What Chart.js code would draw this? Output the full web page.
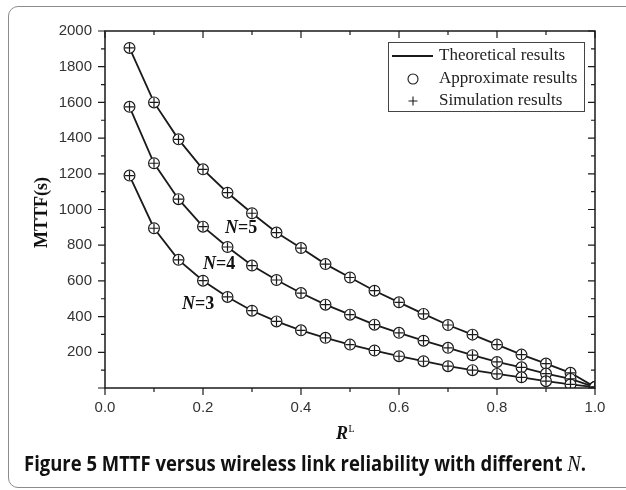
<!DOCTYPE html>
<html>
<head>
<meta charset="utf-8">
<script src="https://cdn.jsdelivr.net/npm/chart.js@4.4.1/dist/chart.umd.min.js"></script>
<style>
  html, body { margin: 0; padding: 0; background: #fff; overflow: hidden; }
  body { width: 626px; height: 490px; position: relative; }
  #frame { position: absolute; left: 8px; top: 6px; width: 660px; height: 482px; border: 1.5px solid #8c8c8c; border-radius: 10px; box-sizing: border-box; }
  #wrap { position: absolute; left: 0; top: 0; width: 626px; height: 490px; }
  #caption { position: absolute; left: 24px; top: 452px; font-family: "Open Sans"; font-weight: 700; font-size: 21px; line-height: 1; color: #111; white-space: nowrap; transform-origin: 0 0; }
  #caption i { font-family: "Liberation Serif"; font-weight: 400; font-size: 23px; }
</style>
</head>
<body>
<div id="frame"></div>
<div id="wrap"><canvas id="mttfChart" width="626" height="490"></canvas></div>
<div id="caption">Figure 5 MTTF versus wireless link reliability with different <i>N</i>.</div>
<script>
// R^L values on the x axis
const rl = [0.05, 0.10, 0.15, 0.20, 0.25, 0.30, 0.35, 0.40, 0.45, 0.50,
            0.55, 0.60, 0.65, 0.70, 0.75, 0.80, 0.85, 0.90, 0.95, 1.00];
// MTTF(s)
const mttfN3 = [1190, 895, 718, 601, 510, 433, 373, 323, 281, 243,
                210, 178, 150, 122, 100, 79, 60, 38, 20, 5];
const mttfN4 = [1575, 1259, 1058, 904, 790, 686, 605, 532, 467, 411,
                355, 309, 265, 225, 184, 146, 116, 81, 51, 5];
const mttfN5 = [1905, 1600, 1393, 1225, 1094, 979, 871, 784, 694, 619,
                545, 480, 415, 353, 299, 243, 187, 137, 85, 5];
const xTicks = [0, 0.2, 0.4, 0.6, 0.8, 1.0];
const yTicks = [200, 400, 600, 800, 1000, 1200, 1400, 1600, 1800, 2000];
const legendNames = ['Theoretical results', 'Approximate results', 'Simulation results'];
// curve labels, placed in data units
const curveLabels = [
    { n: '3', x: 0.19, y: 467 },
    { n: '4', x: 0.233, y: 690 },
    { n: '5', x: 0.278, y: 897 }
];

const ink = '#1a1a1a';
const pts = arr => arr.map((v, i) => ({ x: rl[i], y: v }));
const series = [mttfN3, mttfN4, mttfN5];

const datasets = [];
series.forEach(s => datasets.push({ label: legendNames[0], data: pts(s), borderColor: ink, borderWidth: 1.8, pointRadius: 0, showLine: true, order: 3 }));
series.forEach(s => datasets.push({ label: legendNames[1], data: pts(s), showLine: false, pointStyle: 'circle', pointRadius: 5.4, borderColor: ink, borderWidth: 1.2, backgroundColor: '#fff', order: 2 }));
series.forEach(s => datasets.push({ label: legendNames[2], data: pts(s), showLine: false, pointStyle: 'cross', pointRadius: 4.6, borderColor: ink, borderWidth: 1.2, order: 1 }));

const frameAndText = {
    id: 'frameAndText',
    afterDatasetsDraw(chart) {
        const { ctx, chartArea: a, scales: { x, y } } = chart;
        ctx.save();
        ctx.strokeStyle = ink;
        ctx.lineWidth = 1.5;
        ctx.strokeRect(a.left, a.top, a.right - a.left, a.bottom - a.top);

        // tick marks: left/bottom outward, top/right inward
        ctx.lineWidth = 1.2;
        ctx.beginPath();
        for (let i = 0; i <= 10; i++) {
            const px = x.getPixelForValue(i / 10);
            const len = i % 2 === 0 ? 7 : 4;
            ctx.moveTo(px, a.bottom); ctx.lineTo(px, a.bottom + len);
            ctx.moveTo(px, a.top); ctx.lineTo(px, a.top + len);
        }
        for (let v = 0; v <= 2000; v += 100) {
            const py = y.getPixelForValue(v);
            const len = v % 200 === 0 ? 7 : 4;
            ctx.moveTo(a.left, py); ctx.lineTo(a.left - len, py);
            ctx.moveTo(a.right, py); ctx.lineTo(a.right - len, py);
        }
        ctx.stroke();

        // y title
        ctx.fillStyle = '#111';
        ctx.save();
        ctx.translate(42, (a.top + a.bottom) / 2 + 3);
        ctx.rotate(-Math.PI / 2);
        ctx.font = 'bold 18px "Liberation Serif"';
        ctx.textAlign = 'center';
        ctx.textBaseline = 'middle';
        ctx.fillText('MTTF(s)', 0, 0);
        ctx.restore();

        // x title R^L
        ctx.textBaseline = 'alphabetic';
        ctx.textAlign = 'left';
        ctx.font = 'italic bold 18px "Liberation Serif"';
        const rw = ctx.measureText('R').width;
        const cx = (a.left + a.right) / 2 - 8;
        ctx.fillText('R', cx - rw / 2, 439);
        ctx.font = '10px "Liberation Serif"';
        ctx.fillText('L', cx + rw / 2 + 0.5, 432);

        // curve labels N=3..5
        curveLabels.forEach(l => {
            const px = x.getPixelForValue(l.x), py = y.getPixelForValue(l.y);
            ctx.font = 'italic bold 18px "Liberation Serif"';
            const nw = ctx.measureText('N').width;
            ctx.font = 'bold 18px "Liberation Serif"';
            const rest = '=' + l.n;
            const tw = nw + ctx.measureText(rest).width;
            const sx = px - tw / 2;
            ctx.textBaseline = 'middle';
            ctx.font = 'italic bold 18px "Liberation Serif"';
            ctx.fillText('N', sx, py);
            ctx.font = 'bold 18px "Liberation Serif"';
            ctx.fillText(rest, sx + nw, py);
        });

        // legend box
        const lx = 388, ly = 42, lw = 196, lh = 69;
        ctx.fillStyle = '#fff';
        ctx.fillRect(lx, ly, lw, lh);
        ctx.strokeStyle = '#444';
        ctx.lineWidth = 1;
        ctx.strokeRect(lx + 0.5, ly + 0.5, lw, lh);
        const rows = [56, 79, 101];
        const mx = 413;
        ctx.strokeStyle = ink;
        ctx.lineWidth = 1.8;
        ctx.beginPath(); ctx.moveTo(392, rows[0]); ctx.lineTo(433, rows[0]); ctx.stroke();
        ctx.lineWidth = 1.1;
        ctx.beginPath(); ctx.arc(mx, rows[1], 5, 0, Math.PI * 2); ctx.stroke();
        ctx.beginPath();
        ctx.moveTo(mx - 4.5, rows[2]); ctx.lineTo(mx + 4.5, rows[2]);
        ctx.moveTo(mx, rows[2] - 4.5); ctx.lineTo(mx, rows[2] + 4.5);
        ctx.stroke();
        ctx.fillStyle = '#222';
        ctx.font = '17px "Liberation Serif"';
        ctx.textBaseline = 'middle';
        legendNames.forEach((t, i) => ctx.fillText(t, 439, rows[i]));
        ctx.restore();
    }
};

new Chart(document.getElementById('mttfChart').getContext('2d'), {
    type: 'scatter',
    data: { datasets },
    options: {
        responsive: false,
        animation: false,
        layout: { padding: { top: 31, right: 31, left: 0, bottom: 0 } },
        scales: {
            x: {
                type: 'linear', min: 0, max: 1,
                afterBuildTicks: s => { s.ticks = xTicks.map(v => ({ value: v })); },
                afterFit: s => { s.height = 102; },
                grid: { display: false, drawTicks: false },
                border: { display: false },
                ticks: { padding: 11, color: '#333', font: { family: '"Liberation Sans"', size: 15 }, callback: v => v.toFixed(1), maxRotation: 0 }
            },
            y: {
                type: 'linear', min: 0, max: 2000,
                afterBuildTicks: s => { s.ticks = yTicks.map(v => ({ value: v })); },
                afterFit: s => { s.width = 105; },
                grid: { display: false, drawTicks: false },
                border: { display: false },
                ticks: { padding: 13, color: '#333', font: { family: '"Liberation Sans"', size: 15 }, callback: v => String(v) }
            }
        },
        plugins: { legend: { display: false }, tooltip: { enabled: false } }
    },
    plugins: [frameAndText]
});

// squeeze the caption to the reference width
const cap = document.getElementById('caption');
cap.style.transform = `scaleX(${562 / cap.getBoundingClientRect().width})`;
</script>
</body>
</html>
